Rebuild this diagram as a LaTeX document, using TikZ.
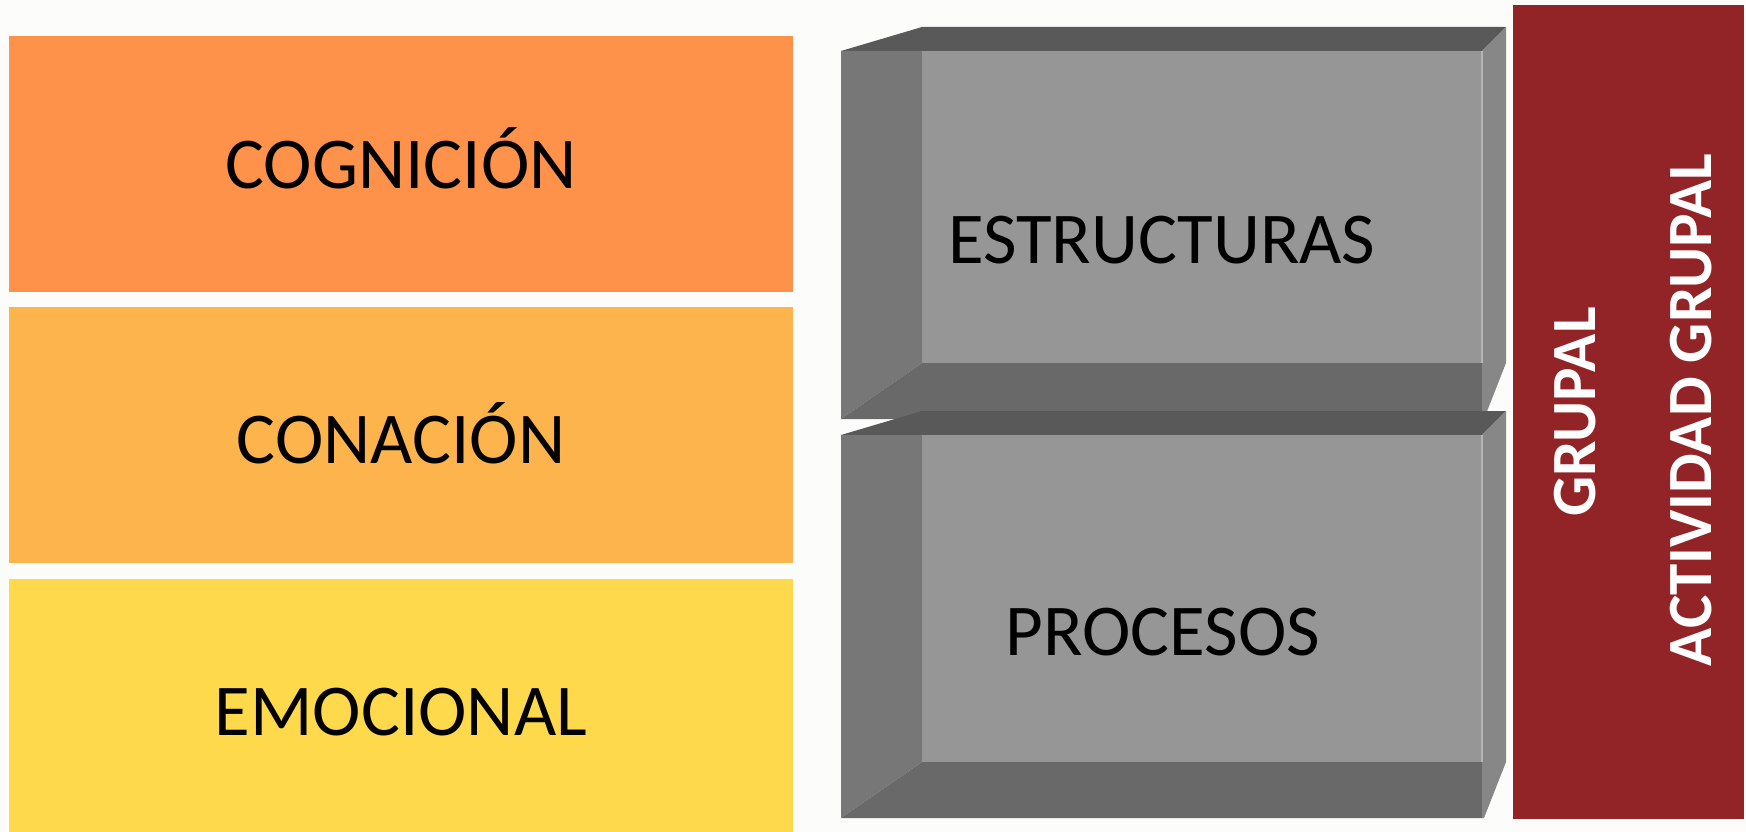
\documentclass[tikz,border=0pt]{standalone}
\usepackage{fontspec}
\setmainfont{Carlito}
\definecolor{bgc}{HTML}{FCFCFA}
\definecolor{cogc}{HTML}{FE924A}
\definecolor{conc}{HTML}{FDB44C}
\definecolor{emoc}{HTML}{FFD94C}
\definecolor{redc}{HTML}{922428}
\definecolor{gtop}{HTML}{595959}
\definecolor{gleft}{HTML}{777777}
\definecolor{gface}{HTML}{969696}
\definecolor{gbot}{HTML}{696969}
\definecolor{gright}{HTML}{878787}
\tikzset{
  bigtext/.style={font=\fontsize{73}{80}\selectfont, text=black, anchor=base, inner sep=0pt},
  redtext/.style={font=\fontsize{63}{70}\selectfont\bfseries, text=white, anchor=base, inner sep=0pt, rotate=90},
}
% #1 = y of top back edge, #2 = y of inner bottom, #3 = y of front bottom
\newcommand{\bevelbox}[3]{%
  \fill[gtop] (841,#1+24) -- (922,#1) -- (1506,#1) -- (1482,#1+24) -- cycle;
  \fill[gleft] (841,#1+24) -- (922,#1+24) -- (922,#2) -- (841,#3) -- cycle;
  \fill[gface] (922,#1+24) rectangle (1482,#2);
  \fill[gbot] (841,#3) -- (922,#2) -- (1482,#2) -- (1482,#3) -- cycle;
  \fill[gright] (1482,#1+24) -- (1506,#1) -- (1506,#2) -- (1484,#3) -- (1482,#3) -- cycle;
  \draw[line width=1.5pt, color=gface!70!white] (1482,#1+24) -- (1482,#2);
}
\begin{document}
\begin{tikzpicture}[x=1pt,y=-1pt]
\useasboundingbox (0,0) rectangle (1746,832);
\fill[bgc] (0,0) rectangle (1746,832);
% left stack
\fill[cogc] (9,36) rectangle (793,292);
\fill[conc] (9,307) rectangle (793,563);
\fill[emoc] (9,579) rectangle (793,840);
\node[bigtext] (cog) at (401,189) {COGNICIÓN};
\node[bigtext] (con) at (401,463) {CONACIÓN};
\node[bigtext] (emo) at (401,735) {EMOCIONAL};
% bevel boxes
\bevelbox{27}{363}{419}
\bevelbox{411}{762}{818}
\node[bigtext] (est) at (1162,263) {ESTRUCTURAS};
\node[bigtext] (pro) at (1163,655) {PROCESOS};
% red bar
\fill[redc] (1513,5) rectangle (1744,819);
\node[redtext] (grp) at (1595,412) {GRUPAL};
\node[redtext] (act) at (1711,410) {ACTIVIDAD GRUPAL};
\end{tikzpicture}
\end{document}
